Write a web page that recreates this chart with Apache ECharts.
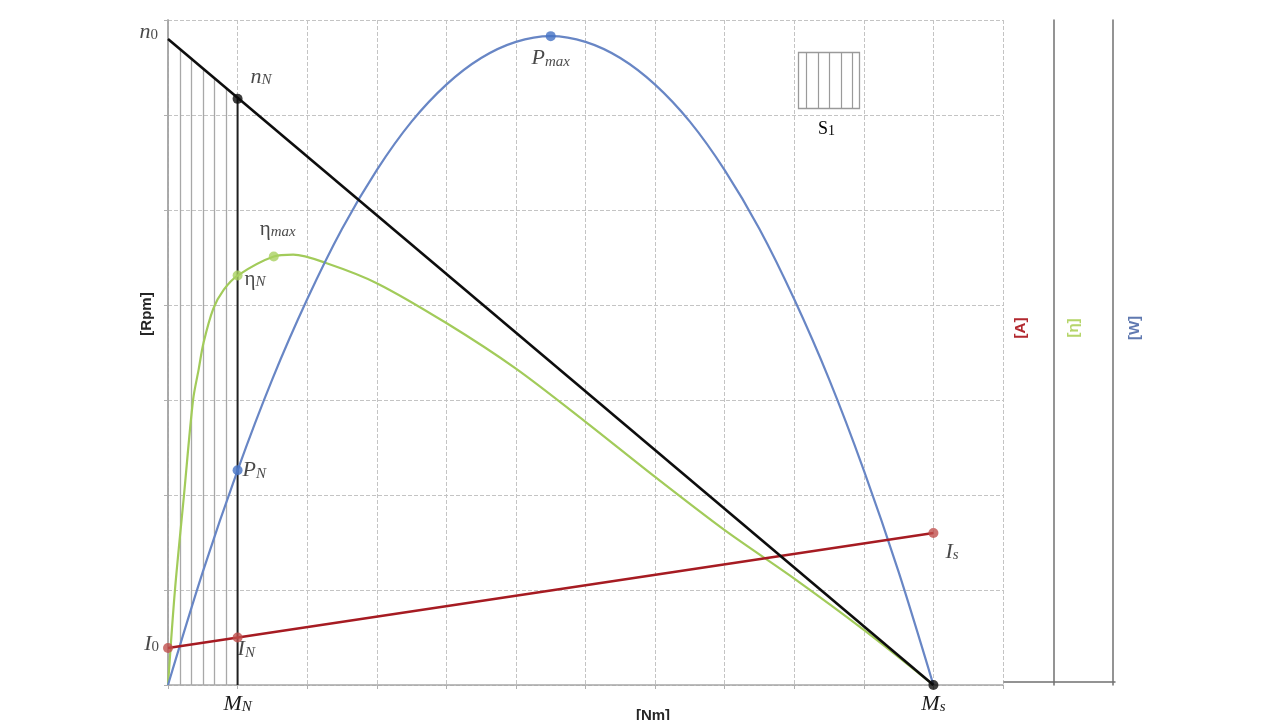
<!DOCTYPE html>
<html>
<head>
<meta charset="utf-8">
<script src="https://cdn.jsdelivr.net/npm/echarts@6/dist/echarts.min.js"></script>
<style>
  html, body { margin: 0; padding: 0; background: #ffffff; }
  #chart { width: 1280px; height: 720px; }
</style>
</head>
<body>
<div id="chart"></div>
<script>
// ---------- data ----------
// torque axis 0..12, speed axis 0..7 (grid units)
const speedLine = [[0, 6.8], [11, 0]];                      // n(M) straight line n0 -> Ms
const currentLine = [[0, 0.39], [11, 1.6]];                 // I(M) straight line I0 -> Is
const ratedLine = [[1, 0], [1, 6.17]];                      // vertical line at M_N
const powerCurve = [
  [0, 0], [0.5, 1.19], [1, 2.26], [1.5, 3.22], [2, 4.06], [2.5, 4.8], [3, 5.42],
  [3.5, 5.93], [4, 6.32], [4.5, 6.6], [5, 6.77], [5.5, 6.83], [6, 6.77], [6.5, 6.6],
  [7, 6.32], [7.5, 5.93], [8, 5.42], [8.5, 4.8], [9, 4.06], [9.5, 3.22], [10, 2.26],
  [10.5, 1.19], [11, 0]
];
const efficiencyCurve = [
  [0, 0], [0.1, 1.0], [0.23, 2.0], [0.36, 3.0], [0.44, 3.32], [0.51, 3.6], [0.65, 3.96],
  [0.8, 4.16], [1.0, 4.31], [1.52, 4.51], [1.8, 4.53], [2.28, 4.44], [3, 4.23], [4, 3.81],
  [5, 3.33], [6, 2.77], [7, 2.19], [8, 1.63], [9, 1.12], [10, 0.58], [11, 0]
];
const hatchX = [0.17, 0.33, 0.5, 0.67, 0.83];
const hatchTop = [6.69, 6.6, 6.49, 6.39, 6.29];

const speedPoints = [[0, 6.8], [1, 6.17], [11, 0]];
const speedPointLabels = ['{m|n}{d|0}', '{m|n}{s|N}', ''];
const effPoints = [[1, 4.31], [1.52, 4.51]];
const effPointLabels = ['{u|η}{s|N}', '{u|η}{s|max}'];
const powerPoints = [[1, 2.26], [5.5, 6.83]];
const powerPointLabels = ['{m|P}{s|N}', '{m|P}{s|max}'];
const currentPoints = [[0, 0.39], [1, 0.5], [11, 1.6]];
const currentPointLabels = ['{m|I}{d|0}', '{m|I}{s|N}', '{m|I}{s|s}'];

const torqueMarkX = [1, 11];
const torqueMarkLabels = ['{m|M}{s|N}', '{m|M}{s|s}'];

const axisNames = { x: '[Nm]', y: '[Rpm]', a: '[A]', eta: '[η]', w: '[W]' };
const legendLabel = 'S';
const legendSub = '1';

// ---------- styles ----------
const SERIF = '"Liberation Serif", "DejaVu Serif", serif';
const SANS = '"Liberation Sans", "DejaVu Sans", sans-serif';
const rich = {
  m: { fontFamily: SERIF, fontStyle: 'italic', fontSize: 22, color: '#1a1a1a', lineHeight: 24, verticalAlign: 'bottom' },
  u: { fontFamily: SERIF, fontSize: 21, color: '#1a1a1a', lineHeight: 24, verticalAlign: 'bottom' },
  s: { fontFamily: SERIF, fontStyle: 'italic', fontSize: 15, color: '#1a1a1a', lineHeight: 11, verticalAlign: 'bottom' },
  d: { fontFamily: SERIF, fontSize: 15, color: '#1a1a1a', lineHeight: 11, verticalAlign: 'bottom' }
};

const C = {
  black: '#0d0d0d', blue: '#6886c5', blueDot: '#4472c4', green: '#a2cb5a', greenDot: '#a9d160',
  red: '#a61b22', redDot: '#c0504d', axis: '#a6a6a6', axisDark: '#707070', grid: '#c4c4c4', hatch: '#a8a8a8'
};

function pointItems(points, labels, opts) {
  return points.map((p, i) => {
    const o = opts[i] || {};
    const item = {
      value: p,
      label: {
        show: labels[i] !== '',
        formatter: labels[i],
        position: o.position || 'right',
        offset: o.offset || [0, 0],
        distance: 5,
        rich: rich
      }
    };
    if (o.hidden) item.symbolSize = 0;
    return item;
  });
}

const chart = echarts.init(document.getElementById('chart'));

const rightAxisBase = {
  type: 'value', gridIndex: 0, position: 'right', min: 0, max: 7,
  axisTick: { show: false }, axisLabel: { show: false }, splitLine: { show: false },
  nameLocation: 'middle', nameRotate: 90, nameMoveOverlap: false
};

const option = {
  animation: false,
  backgroundColor: '#ffffff',
  grid: [
    { left: 168, right: 277, top: 20, bottom: 35, containLabel: false, outerBoundsMode: 'none' },
    { left: 1004, top: 20, width: 111, height: 662, containLabel: false, outerBoundsMode: 'none' }
  ],
  xAxis: [
    {
      type: 'value', gridIndex: 0, min: 0, max: 12, interval: 1,
      axisLine: { onZero: false, lineStyle: { color: C.axis, width: 1.5 } },
      axisTick: { show: true, length: 5, lineStyle: { color: '#b0b0b0', type: 'dashed' } },
      axisLabel: {
        margin: 6,
        formatter: function (v) {
          const i = torqueMarkX.indexOf(v);
          return i >= 0 ? torqueMarkLabels[i] : '';
        },
        rich: rich
      },
      splitLine: { show: true, lineStyle: { type: 'dashed', color: C.grid, width: 1 } },
      name: axisNames.x, nameLocation: 'middle', nameGap: 23, nameMoveOverlap: false,
      nameTextStyle: { fontFamily: SANS, fontWeight: 'bold', fontSize: 15, color: '#262626', padding: [0, 0, 0, 135] }
    },
    {
      type: 'value', gridIndex: 1, min: 0, max: 1,
      axisLine: { onZero: false, lineStyle: { color: C.axisDark, width: 1.5 } },
      axisTick: { show: false }, axisLabel: { show: false }, splitLine: { show: false }
    }
  ],
  yAxis: [
    {
      type: 'value', gridIndex: 0, min: 0, max: 7, interval: 1, position: 'left',
      axisLine: { onZero: false, lineStyle: { color: C.axis, width: 1.5 } },
      axisTick: { show: true, length: 5, lineStyle: { color: '#b0b0b0', type: 'dashed' } },
      axisLabel: { show: false },
      splitLine: { show: true, lineStyle: { type: 'dashed', color: C.grid, width: 1 } },
      name: axisNames.y, nameLocation: 'middle', nameRotate: 90, nameGap: 14, nameMoveOverlap: false,
      nameTextStyle: { fontFamily: SANS, fontWeight: 'bold', fontSize: 15, color: '#262626', padding: [0, 0, 0, 77] }
    },
    Object.assign({}, rightAxisBase, {
      offset: 0, axisLine: { show: true, lineStyle: { color: C.axis, width: 1.5 } },
      name: axisNames.a, nameGap: 10,
      nameTextStyle: { fontFamily: SANS, fontWeight: 'bold', fontSize: 15, color: '#b2282f', padding: [0, 0, 0, 49] }
    }),
    Object.assign({}, rightAxisBase, {
      offset: 51, axisLine: { show: true, lineStyle: { color: C.axisDark, width: 1.5 } },
      name: axisNames.eta, nameGap: 12,
      nameTextStyle: { fontFamily: SANS, fontWeight: 'bold', fontSize: 15, color: '#b5d56a', padding: [0, 0, 0, 49] }
    }),
    Object.assign({}, rightAxisBase, {
      offset: 110, axisLine: { show: true, lineStyle: { color: C.axisDark, width: 1.5 } },
      name: axisNames.w, nameGap: 14,
      nameTextStyle: { fontFamily: SANS, fontWeight: 'bold', fontSize: 15, color: '#6079b0', padding: [0, 0, 0, 49] }
    }),
    { type: 'value', gridIndex: 1, min: 0, max: 1, show: false }
  ],
  graphic: [
    {
      type: 'group', left: 796, top: 50, silent: true,
      children: [
        { type: 'rect', shape: { x: 0, y: 0, width: 61, height: 56 }, style: { fill: 'none', stroke: '#9a9a9a', lineWidth: 1.3 } },
        { type: 'line', shape: { x1: 8, y1: 0, x2: 8, y2: 56 }, style: { stroke: '#9a9a9a', lineWidth: 1.2 } },
        { type: 'line', shape: { x1: 20, y1: 0, x2: 20, y2: 56 }, style: { stroke: '#9a9a9a', lineWidth: 1.2 } },
        { type: 'line', shape: { x1: 31, y1: 0, x2: 31, y2: 56 }, style: { stroke: '#9a9a9a', lineWidth: 1.2 } },
        { type: 'line', shape: { x1: 43, y1: 0, x2: 43, y2: 56 }, style: { stroke: '#9a9a9a', lineWidth: 1.2 } },
        { type: 'line', shape: { x1: 54, y1: 0, x2: 54, y2: 56 }, style: { stroke: '#9a9a9a', lineWidth: 1.2 } },
        {
          type: 'text', x: 28, y: 76,
          style: {
            text: '{a|' + legendLabel + '}{b|' + legendSub + '}',
            align: 'center', verticalAlign: 'middle',
            rich: {
              a: { fontFamily: SERIF, fontSize: 18, color: '#262626', lineHeight: 20, verticalAlign: 'bottom' },
              b: { fontFamily: SERIF, fontSize: 14, color: '#262626', lineHeight: 15, verticalAlign: 'bottom' }
            }
          }
        }
      ]
    }
  ],
  series: [
    {
      type: 'lines', coordinateSystem: 'cartesian2d', xAxisIndex: 0, yAxisIndex: 0,
      polyline: false, silent: true, z: 1,
      lineStyle: { color: C.hatch, width: 1.3, opacity: 1 },
      data: hatchX.map((x, i) => ({ coords: [[x, 0], [x, hatchTop[i]]] }))
    },
    {
      type: 'line', data: ratedLine, showSymbol: false, silent: true, z: 2,
      lineStyle: { color: '#1f1f1f', width: 2 }
    },
    {
      type: 'line', data: efficiencyCurve, showSymbol: false, smooth: 0.3, silent: true, z: 3,
      lineStyle: { color: C.green, width: 2.2 }
    },
    {
      type: 'line', data: powerCurve, showSymbol: false, smooth: 0.3, silent: true, z: 3,
      lineStyle: { color: C.blue, width: 2.2 }
    },
    {
      type: 'line', data: currentLine, showSymbol: false, silent: true, z: 4,
      lineStyle: { color: C.red, width: 2.5 }
    },
    {
      type: 'line', data: speedLine, showSymbol: false, silent: true, z: 4,
      lineStyle: { color: C.black, width: 2.6 }
    },
    {
      type: 'scatter', symbolSize: 10, z: 6, itemStyle: { color: C.black },
      data: pointItems(speedPoints, speedPointLabels, [
        { position: 'left', offset: [-5, -8], hidden: true },
        { position: 'right', offset: [3, -23] },
        {}
      ])
    },
    {
      type: 'scatter', symbolSize: 10, z: 6, itemStyle: { color: C.greenDot },
      data: pointItems(effPoints, effPointLabels, [
        { position: 'right', offset: [-3, 2] },
        { position: 'top', offset: [4, -7] }
      ])
    },
    {
      type: 'scatter', symbolSize: 10, z: 6, itemStyle: { color: C.blueDot },
      data: pointItems(powerPoints, powerPointLabels, [
        { position: 'right', offset: [-5, -1] },
        { position: 'bottom', offset: [0, -1] }
      ])
    },
    {
      type: 'scatter', symbolSize: 10, z: 6, itemStyle: { color: C.redDot },
      data: pointItems(currentPoints, currentPointLabels, [
        { position: 'left', offset: [1, -5] },
        { position: 'right', offset: [-10, 11] },
        { position: 'right', offset: [2, 18] }
      ])
    }
  ]
};

chart.setOption(option);
</script>
</body>
</html>
